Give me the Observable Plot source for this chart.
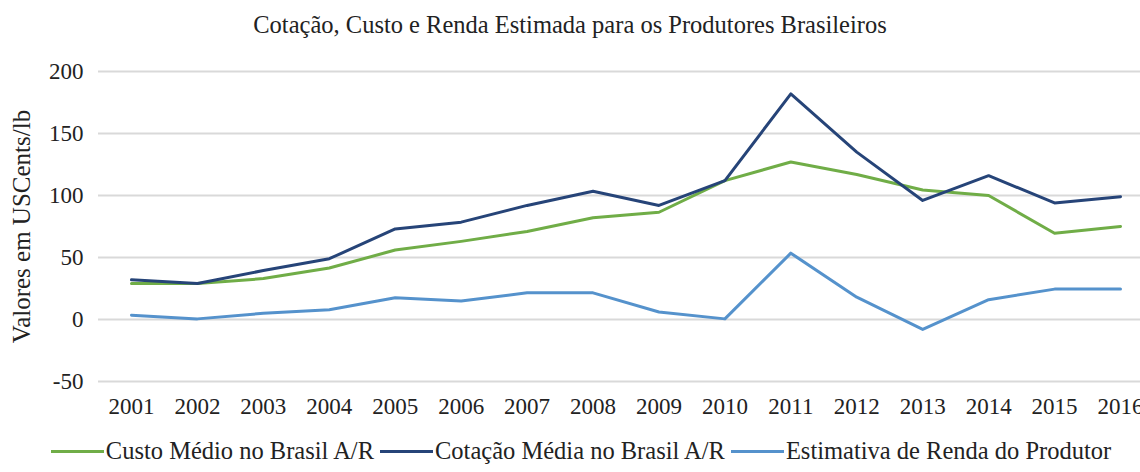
<!DOCTYPE html>
<html>
<head>
<meta charset="utf-8">
<script src="https://cdn.jsdelivr.net/npm/d3@7"></script>
<script src="https://cdn.jsdelivr.net/npm/@observablehq/plot@0.6"></script>
<style>
  html, body { margin: 0; padding: 0; background: #fff; overflow: hidden; }
  body { width: 1140px; height: 472px; font-family: "Liberation Serif", "Times New Roman", serif; color: #222; }
  #title { height: 50px; line-height: 50px; text-align: center; font-size: 24.5px; font-family: "Liberation Serif", serif; }
  #legend { display: flex; justify-content: center; align-items: center; height: 42px; font-size: 24.5px; font-family: "Liberation Serif", serif; padding-left: 22px; box-sizing: border-box; width: 1140px; }
  .item { display: flex; align-items: center; margin: 0 3px; }
  .sw { width: 53px; height: 3px; margin-right: 2px; }
  svg { display: block; }
</style>
</head>
<body>
<div id="title">Cotação, Custo e Renda Estimada para os Produtores Brasileiros</div>
<div id="chart"></div>
<div id="legend"></div>
<script>
const years = ["2001","2002","2003","2004","2005","2006","2007","2008","2009","2010","2011","2012","2013","2014","2015","2016"];
const custo = [29, 29, 33, 41.5, 56, 63, 71, 82, 86.5, 112, 127, 117, 104.5, 100, 69.5, 75];
const cotacao = [32, 29, 39.5, 49, 73, 78.5, 92, 103.5, 92, 112, 182, 135, 96, 116, 94, 99];
const renda = [3.5, 0.5, 5, 7.8, 17.5, 15, 21.5, 21.5, 6, 0.5, 53.5, 18, -8, 16, 24.5, 24.5];
const seriesNames = ["Custo Médio no Brasil A/R", "Cotação Média no Brasil A/R", "Estimativa de Renda do Produtor"];
const colors = ["#70AD47", "#264478", "#5592CC"];
const yTicks = [-50, 0, 50, 100, 150, 200];

const valuesBySeries = [custo, cotacao, renda];
const data = [];
valuesBySeries.forEach((vals, s) => {
  vals.forEach((v, i) => data.push({series: seriesNames[s], year: years[i], value: v}));
});

const chart = Plot.plot({
  width: 1140,
  height: 380,
  marginLeft: 98,
  marginRight: 0,
  marginTop: 21,
  marginBottom: 49,
  style: {fontFamily: "'Liberation Serif', serif", fontSize: "23px", color: "#222", background: "#fff"},
  x: {type: "point", domain: years, range: [131, 1120], padding: 0, round: false},
  y: {domain: [-50, 200]},
  color: {domain: seriesNames, range: colors},
  marks: [
    Plot.gridY(yTicks, {stroke: "#d9d9d9", strokeOpacity: 1, strokeWidth: 2}),
    Plot.axisY(yTicks, {tickSize: 0, tickPadding: 15, tickFormat: d => String(d), label: null, fontSize: 23}),
    Plot.axisY({tickSize: 0, ticks: [], label: "Valores em USCents/lb", labelAnchor: "center", labelArrow: "none", labelOffset: 86, fontSize: 25}),
    Plot.axisX({tickSize: 0, tickPadding: 16, label: null, fontSize: 23}),
    Plot.line(data, {x: "year", y: "value", z: "series", stroke: "series", strokeWidth: 3, strokeLinejoin: "round", strokeLinecap: "round"})
  ]
});
document.getElementById("chart").appendChild(chart);

const legend = document.getElementById("legend");
seriesNames.forEach((name, i) => {
  const item = document.createElement("div");
  item.className = "item";
  const sw = document.createElement("div");
  sw.className = "sw";
  sw.style.background = colors[i];
  const t = document.createElement("span");
  t.textContent = name;
  item.appendChild(sw);
  item.appendChild(t);
  legend.appendChild(item);
});
</script>
</body>
</html>
